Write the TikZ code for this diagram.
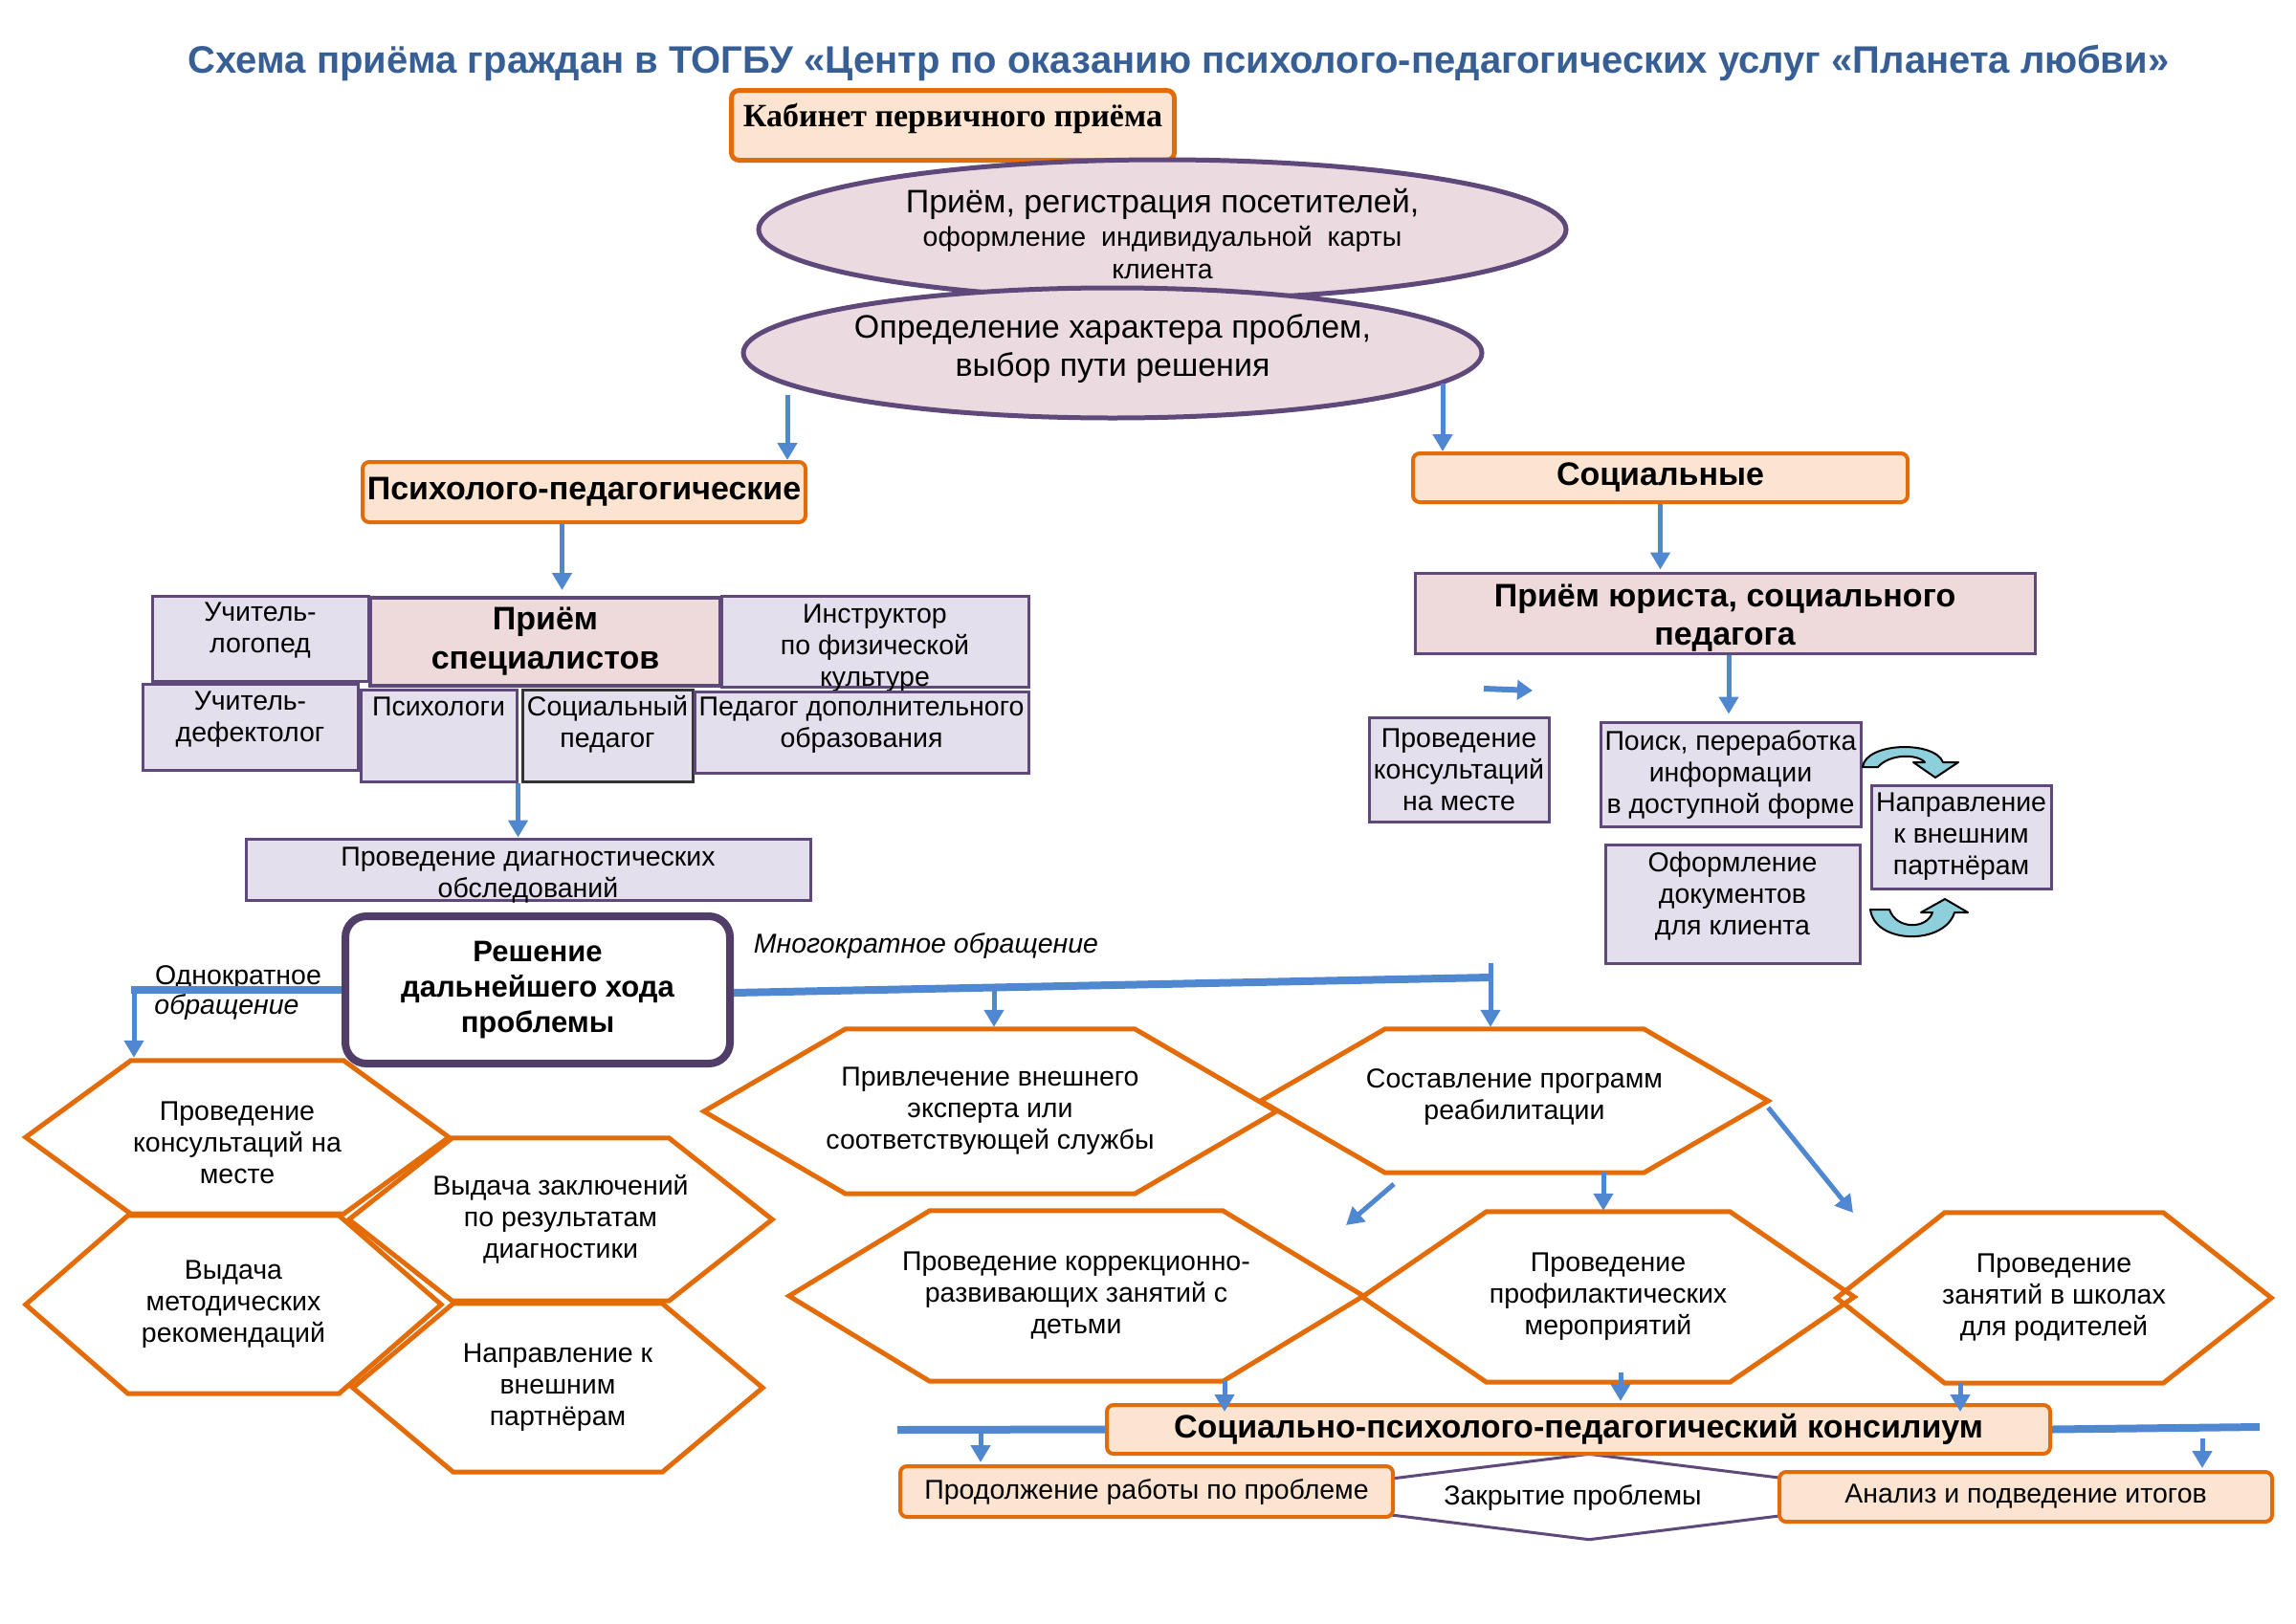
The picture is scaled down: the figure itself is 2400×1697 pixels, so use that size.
\documentclass[tikz,border=0pt]{standalone}
\usepackage{fontspec}
\setmainfont{Liberation Sans}
\newfontfamily\timesf{Liberation Serif}
\usetikzlibrary{arrows.meta,calc,shapes.geometric}
\definecolor{orangeB}{HTML}{E36C09}
\definecolor{peach}{HTML}{FCE4D0}
\definecolor{lav}{HTML}{E4DFEC}
\definecolor{purpB}{HTML}{5F497A}
\definecolor{pinkF}{HTML}{EFDADB}
\definecolor{ellF}{HTML}{EBDBE1}
\definecolor{blueA}{HTML}{4F88D0}
\definecolor{titleC}{HTML}{375F96}
\definecolor{cyanF}{HTML}{8ECFDC}
\newcommand\fs[2]{\fontsize{#1}{#2}\selectfont}
% parbox with a kern below the text: positive kern lifts the text, negative lowers it
\newcommand\vup[3]{\parbox{#1}{\centering #3\par\kern#2}}
\newcommand\hexnode[7]{%
  \node[hextext, minimum width={2*#4}, minimum height={2*#5}] (#1) at (#2,#3) {#7};
  \draw[hexline] (#1.west) -- ($(#1.north west)+(#6,0)$) -- ($(#1.north east)+(-#6,0)$)
    -- (#1.east) -- ($(#1.south east)+(-#6,0)$) -- ($(#1.south west)+(#6,0)$) -- cycle;}
\begin{document}
\begin{tikzpicture}[x=1pt,y=-1pt,
  every node/.style={inner sep=0pt, font=\fs{28.5}{33}},
  orbox/.style={draw=orangeB, line width=4pt, fill=peach, rounded corners=7pt, align=center},
  lbox/.style={draw=purpB, line width=3pt, fill=lav, align=center},
  pkbox/.style={lbox, fill=pinkF},
  hextext/.style={align=center, font=\fs{28.5}{33}},
  hexline/.style={draw=orangeB, line width=5pt, line join=miter},
  barrow/.style={draw=blueA, line width=5pt, -{Triangle[length=18pt,width=20pt]}},
  bline/.style={draw=blueA, line width=8pt},
  curarr/.style={fill=cyanF, draw=black, line width=2pt, line join=round},
  dline/.style={draw=purpB, line width=3pt},
  headf/.style={font=\fs{34}{40}\bfseries}
]
\useasboundingbox[fill=white] (0,0) rectangle (2400,1697);

% title
\node[font=\fs{40}{44}\bfseries, text=titleC] (title) at (1232,66)
  {Схема приёма граждан в ТОГБУ «Центр по оказанию психолого-педагогических услуг «Планета любви»};

% top part
\node[draw=orangeB, line width=5pt, fill=peach, rounded corners=8pt, minimum width=463, minimum height=73,
  font=\timesf\fs{34}{38}\bfseries, text depth=22pt] (kab) at (996,131) {Кабинет первичного приёма};
\node[ellipse, draw=purpB, line width=5pt, fill=ellF, minimum width=844, minimum height=146]
  (e1) at (1215,240)
  {\vup{560pt}{-10pt}{{\fs{34}{40}Приём, регистрация посетителей,\par}%
   {\fs{28.5}{34.5}оформление~~индивидуальной~~карты\\клиента\par}}};
\node[ellipse, draw=purpB, line width=5pt, fill=ellF, minimum width=772, minimum height=136,
  font=\fs{34}{40}] (e2) at (1163,369)
  {\vup{545pt}{8pt}{Определение характера проблем,\\выбор пути решения}};

% branches
\node[orbox, minimum width=463, minimum height=63, headf] (pp) at (610.5,514.5) {Психолого-педагогические};
\node[orbox, minimum width=517, minimum height=51, headf] (soc) at (1735.5,499.5) {Социальные};
\coordinate (a1) at (823,413);
\coordinate (a2) at (1508,401);
\draw[barrow] (a1) -- (a1 |- pp.north);
\draw[barrow] (a2) -- (a2 |- soc.north);

% specialists
\node[lbox, minimum width=226, minimum height=89] (logo) at (272,667.5) {\vup{210pt}{16pt}{Учитель-\\логопед}};
\node[lbox, minimum width=321, minimum height=95] (instr) at (914.5,670.5) {\vup{310pt}{-14pt}{Инструктор\\по физической\\культуре}};
\node[pkbox, line width=4pt, minimum width=366, minimum height=92, font=\fs{34}{41}\bfseries] (spec) at (570,671) {Приём\\специалистов};
\node[lbox, minimum width=225, minimum height=90] (defect) at (261.5,760) {\vup{210pt}{16pt}{Учитель-\\дефектолог}};
\node[lbox, minimum width=163, minimum height=96, text height=21pt, text depth=62pt] (psy) at (458.5,769) {Психологи};
\node[lbox, draw=black!80, minimum width=178, minimum height=96] (socped) at (635,769) {\vup{176pt}{24pt}{Социальный\\педагог}};
\node[lbox, minimum width=349, minimum height=85] (dopobr) at (900.5,765.5) {\vup{347pt}{14pt}{Педагог дополнительного\\образования}};
\draw[barrow] ([xshift=-23pt]pp.south) -- ++(0,69);
\node[lbox, minimum width=590, minimum height=64] (diag) at (552,909) {\vup{560pt}{-12pt}{Проведение диагностических\\обследований}};
\draw[barrow] (psy.south east) -- (psy.south east |- diag.north);

% decision
\node[draw=purpB!85!black, line width=8pt, fill=white, rounded corners=22pt, minimum width=402, minimum height=154,
  align=center, font=\fs{31}{37}\bfseries] (resh) at (562,1035) {Решение\\дальнейшего хода\\проблемы};
\node (once1) at (249,1022) {Однократное};
\node[font=\fs{28.5}{33}\itshape] (once2) at (237,1053) {обращение};
\node[font=\fs{28.5}{33}\itshape] (many) at (968,989) {Многократное обращение};

% hexagons left
\hexnode{h1}{248}{1189}{221}{80}{110}{\vup{400pt}{-12pt}{Проведение\\консультаций на\\месте}}
\hexnode{h2}{586}{1275}{221}{85}{108}{Выдача заключений\\по результатам\\диагностики}
\hexnode{h3}{244}{1364}{217}{93}{107}{Выдача\\методических\\рекомендаций}
\hexnode{h4}{583}{1451}{214}{88}{105}{Направление к\\внешним\\партнёрам}
% hexagons right
\hexnode{h5}{1035}{1162}{299}{86}{148}{Привлечение внешнего\\эксперта или\\соответствующей службы}
\hexnode{h6}{1583}{1151}{265}{75}{130}{\vup{400pt}{8pt}{Составление программ\\реабилитации}}
\hexnode{h7}{1125}{1355}{300}{89}{147}{Проведение коррекционно-\\развивающих занятий с\\детьми}
\hexnode{h8}{1681}{1356}{257}{89}{130}{Проведение\\профилактических\\мероприятий}
\hexnode{h9}{2147}{1357}{227}{89}{113}{Проведение\\занятий в школах\\для родителей}

% decision connectors
\coordinate (c1) at (140,1035);
\draw[bline] (resh.west) -- ([xshift=-3pt]c1);
\draw[barrow] (c1) -- ([yshift=3pt]c1 |- h1.north);
\coordinate (c2) at (1558,1022);
\draw[bline] ([yshift=-3pt]resh.east) -- (c2);
\coordinate (c3) at (1558,1007);
\draw[barrow] (c3) -- ([yshift=2pt]c3 |- h6.north);
\coordinate (c4) at (1039,1033);
\draw[barrow] (c4) -- ([yshift=2pt]c4 |- h5.north);
\coordinate (c5a) at (1457,1238);
\coordinate (c5b) at (1407,1281);
\draw[barrow] (c5a) -- (c5b);
\draw[barrow] ([xshift=93pt]h6.south) -- ([xshift=93pt,yshift=1pt]h6.south |- h8.north);
\coordinate (c6) at (1937,1268);
\draw[barrow] ([yshift=-7pt]h6.east) -- (c6);

% bottom
\node[minimum width=718, minimum height=89] (close) at (1661,1565) {};
\draw[dline] (close.west) -- (close.north) -- (close.east) -- (close.south) -- cycle;
\node (closet) at (1644,1566) {Закрытие проблемы};
\node[orbox, minimum width=986, minimum height=51, headf] (kons) at (1650,1494.5) {Социально-психолого-педагогический консилиум};
\node[orbox, minimum width=515, minimum height=53] (prod) at (1198.5,1559.5) {Продолжение работы по проблеме};
\node[orbox, minimum width=515, minimum height=52] (ana) at (2117.5,1565) {Анализ и подведение итогов};
\draw[barrow] ([xshift=155pt]h7.south) -- ([xshift=155pt,yshift=-9pt]h7.south |- kons.north);
\draw[barrow] ([xshift=13pt,yshift=10pt]h8.south) -- ([xshift=13pt,yshift=2pt]h8.south |- kons.north);
\draw[barrow] ([xshift=-98pt]h9.south) -- ([xshift=-98pt,yshift=-9pt]h9.south |- kons.north);
\coordinate (k1) at (938,1495);
\coordinate (k2) at (2362,1492);
\draw[bline] (kons.west) -- (k1);
\draw[bline] (kons.east) -- (k2);
\coordinate (k3) at (1025,1498);
\draw[barrow] (k3) -- ([yshift=2pt]k3 |- prod.north);
\coordinate (k4) at (2302,1504);
\draw[barrow] (k4) -- ([yshift=2pt]k4 |- ana.north);

% social branch
\node[pkbox, minimum width=648, minimum height=84, headf] (jur) at (1803,641) {\vup{640pt}{-10pt}{Приём юриста, социального\\педагога}};
\draw[barrow] (soc.south) -- ([yshift=2pt]soc.south |- jur.north);
\node[lbox, minimum width=188, minimum height=109, font=\fs{28.5}{33}] (kons2) at (1525,804.5) {Проведение\\консультаций\\на месте};
\node[lbox, minimum width=272, minimum height=109, font=\fs{28.5}{33}] (poisk) at (1809,809.5) {Поиск, переработка\\информации\\в доступной форме};
\node[lbox, minimum width=188, minimum height=108, font=\fs{28.5}{33}] (napr) at (2050,875) {Направление\\к внешним\\партнёрам};
\node[lbox, minimum width=266, minimum height=124, font=\fs{28.5}{33}] (oform) at (1811,945) {\vup{260pt}{16pt}{Оформление\\документов\\для клиента}};
\draw[barrow] ([xshift=4pt]jur.south) -- ++(0,62);
\coordinate (s1) at (1551,720);
\coordinate (s2) at (1602,722);
\draw[draw=blueA, line width=6pt, -{Triangle[length=16pt,width=20pt]}] (s1) -- (s2);
\filldraw[curarr] (1947,802) .. controls (1950,776) and (2022,774) .. (2031,797) -- (2047,797) -- (2023,813)
  -- (2000,797) -- (2012,797) .. controls (2004,788) and (1975,788) .. (1963,802) -- cycle;
\filldraw[curarr] (1955,951) .. controls (1960,988) and (2033,988) .. (2043,954) -- (2057,954) -- (2033,940)
  -- (2008,954) -- (2020,954) .. controls (2014,972) and (1982,972) .. (1975,951) -- cycle;
\end{tikzpicture}
\end{document}
